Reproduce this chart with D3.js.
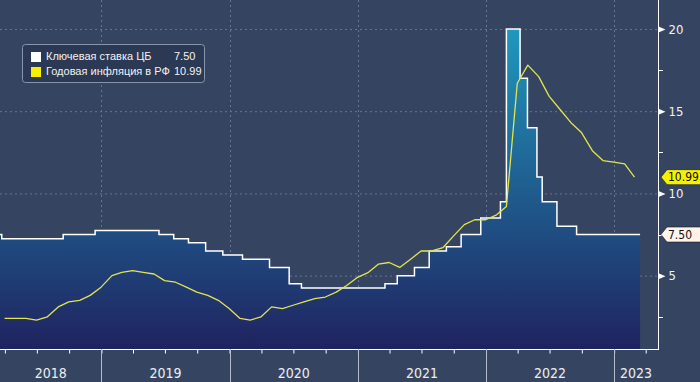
<!DOCTYPE html>
<html>
<head>
<meta charset="utf-8">
<script src="https://cdn.jsdelivr.net/npm/d3@7"></script>
<style>
  body { margin: 0; background: #354561; }
  svg { display: block; }
  .num { font-family: "Liberation Sans Narrow", "Arial Narrow", "DejaVu Sans Condensed", sans-serif; }
</style>
</head>
<body>
<svg width="700" height="382"></svg>
<script>
// key rate: decision dates and new level
var rateDates = ["2018-03-18","2018-03-23","2018-09-14","2018-12-14","2019-06-14","2019-07-26","2019-09-06",
  "2019-10-25","2019-12-13","2020-02-07","2020-04-24","2020-06-19","2020-07-24","2021-03-19","2021-04-23",
  "2021-06-11","2021-07-23","2021-09-10","2021-10-22","2021-12-17","2022-02-11","2022-02-28","2022-04-08",
  "2022-04-29","2022-05-26","2022-06-10","2022-07-22","2022-09-16","2023-03-16"];
var rateValues = [7.50,7.25,7.50,7.75,7.50,7.25,7.00,6.50,6.25,6.00,5.50,4.50,4.25,4.50,5.00,
  5.50,6.50,6.75,7.50,8.50,9.50,20.00,17.00,14.00,11.00,9.50,8.00,7.50,7.50];

// annual CPI, monthly
var inflMonths = [
  "2018-03","2018-04","2018-05","2018-06","2018-07","2018-08","2018-09","2018-10","2018-11","2018-12",
  "2019-01","2019-02","2019-03","2019-04","2019-05","2019-06","2019-07","2019-08","2019-09","2019-10","2019-11","2019-12",
  "2020-01","2020-02","2020-03","2020-04","2020-05","2020-06","2020-07","2020-08","2020-09","2020-10","2020-11","2020-12",
  "2021-01","2021-02","2021-03","2021-04","2021-05","2021-06","2021-07","2021-08","2021-09","2021-10","2021-11","2021-12",
  "2022-01","2022-02","2022-03","2022-04","2022-05","2022-06","2022-07","2022-08","2022-09","2022-10","2022-11","2022-12",
  "2023-01","2023-02"];
var inflValues = [
  2.4,2.4,2.4,2.3,2.5,3.1,3.4,3.5,3.8,4.3,
  5.0,5.2,5.3,5.2,5.1,4.7,4.6,4.3,4.0,3.8,3.5,3.0,
  2.4,2.3,2.5,3.1,3.0,3.2,3.4,3.6,3.7,4.0,4.4,4.9,
  5.2,5.7,5.8,5.5,6.0,6.5,6.5,6.7,7.4,8.1,8.4,8.4,
  8.7,9.2,16.7,17.8,17.1,15.9,15.1,14.3,13.7,12.6,12.0,11.9,
  11.8,10.99];

var yearLabels = ["2018","2019","2020","2021","2022","2023"];
var yMajor = [5, 10, 15, 20];
var yMinor = [2.5, 7.5, 12.5, 17.5];
var seriesNames = ["Ключевая ставка ЦБ", "Годовая инфляция в РФ"];
var lastLabels = ["7.50", "10.99"];

var width = 700;
var height = 382;
var plotW = 658;
var plotH = 349;

var parseDay = d3.timeParse("%Y-%m-%d");
var parseMonth = d3.timeParse("%Y-%m");

var rateData = rateDates.map((d, i) => ({date: parseDay(d), v: rateValues[i]}));
// monthly readings sit at the last day of their month
var inflData = inflMonths.map((m, i) => ({date: d3.timeDay.offset(d3.timeMonth.offset(parseMonth(m), 1), -1), v: inflValues[i]}));

var Xscale = d3.scaleTime()
  .domain([parseDay("2018-03-18"), parseDay("2023-05-06")])
  .range([0, plotW]);

var Yscale = d3.scaleLinear()
  .domain([0.54, 21.76])
  .range([plotH, 0]);

var svg = d3.select("svg");

svg.append("rect")
  .attr("width", width)
  .attr("height", height)
  .attr("fill", "#354561");

var grad = svg.append("defs").append("linearGradient")
  .attr("id", "areaGrad")
  .attr("gradientUnits", "userSpaceOnUse")
  .attr("x1", 0).attr("y1", 0)
  .attr("x2", 0).attr("y2", plotH);
grad.append("stop").attr("offset", 0).attr("stop-color", "#20a2c6");
grad.append("stop").attr("offset", 1).attr("stop-color", "#1f2360");

var years = yearLabels.map(y => parseDay(y + "-01-01"));

// grid
svg.append("g")
  .selectAll("line")
  .data(yMajor)
  .enter()
    .append("line")
    .attr("x1", 0)
    .attr("x2", plotW)
    .attr("y1", d => Yscale(d) + 0.5)
    .attr("y2", d => Yscale(d) + 0.5)
    .attr("stroke", "#62759a")
    .attr("stroke-dasharray", "2,3");

svg.append("g")
  .selectAll("line")
  .data(years.slice(1))
  .enter()
    .append("line")
    .attr("x1", d => Math.round(Xscale(d)) + 0.5)
    .attr("x2", d => Math.round(Xscale(d)) + 0.5)
    .attr("y1", 0)
    .attr("y2", plotH)
    .attr("stroke", "#62759a")
    .attr("stroke-dasharray", "2,3");

// key rate area + step line
var area = d3.area()
  .curve(d3.curveStepAfter)
  .x(d => Xscale(d.date))
  .y0(plotH)
  .y1(d => Yscale(d.v));

svg.append("path")
  .datum(rateData)
  .attr("d", area)
  .attr("fill", "url(#areaGrad)");

var rateLine = d3.line()
  .curve(d3.curveStepAfter)
  .x(d => Xscale(d.date))
  .y(d => Yscale(d.v));

svg.append("path")
  .datum(rateData)
  .attr("d", rateLine)
  .attr("fill", "none")
  .attr("stroke", "#ffffff")
  .attr("stroke-width", 1.5);

var inflLine = d3.line()
  .x(d => Xscale(d.date))
  .y(d => Yscale(d.v));

svg.append("path")
  .datum(inflData)
  .attr("d", inflLine)
  .attr("fill", "none")
  .attr("stroke", "#e4e44c")
  .attr("stroke-width", 1.3)
  .attr("stroke-linejoin", "round");

// right axis
var yAxis = d3.axisRight(Yscale)
  .tickValues(yMajor)
  .tickSize(0)
  .tickPadding(10)
  .tickFormat(d3.format("d"));

var yg = svg.append("g")
  .attr("class", "num")
  .attr("transform", "translate(" + (plotW + 0.5) + ",0)")
  .call(yAxis);
yg.select(".domain").remove();
yg.selectAll("text")
  .attr("fill", "#f2f2f2")
  .attr("font-size", 13);
yg.selectAll(".tick")
  .append("path")
  .attr("d", "M0,-3L7,0L0,3Z")
  .attr("fill", "#ffffff");

svg.append("g")
  .selectAll("line")
  .data(yMinor)
  .enter()
    .append("line")
    .attr("x1", plotW)
    .attr("x2", plotW + 5)
    .attr("y1", d => Math.round(Yscale(d)) + 0.5)
    .attr("y2", d => Math.round(Yscale(d)) + 0.5)
    .attr("stroke", "#ffffff");

svg.append("line")
  .attr("x1", plotW + 0.5).attr("x2", plotW + 0.5)
  .attr("y1", 0).attr("y2", plotH + 1)
  .attr("stroke", "#ffffff");

// bottom axis: quarterly ticks, year separators
var xAxis = d3.axisBottom(Xscale)
  .ticks(d3.timeMonth.every(3))
  .tickSize(4)
  .tickFormat("");

var xg = svg.append("g")
  .attr("transform", "translate(0," + (plotH + 0.5) + ")")
  .call(xAxis);
xg.select(".domain")
  .attr("d", "M0,0H" + (plotW + 1))
  .attr("stroke", "#ffffff");
xg.selectAll(".tick line").attr("stroke", "#ffffff");

svg.append("g")
  .selectAll("line")
  .data(years.slice(1))
  .enter()
    .append("line")
    .attr("x1", d => Math.round(Xscale(d)) + 0.5)
    .attr("x2", d => Math.round(Xscale(d)) + 0.5)
    .attr("y1", plotH)
    .attr("y2", height)
    .attr("stroke", "#b4bccb");

svg.append("g")
  .attr("class", "num")
  .selectAll("text")
  .data(years)
  .enter()
    .append("text")
    .attr("x", (d, i) => {
      var a = Math.max(0, Xscale(d));
      var b = i < years.length - 1 ? Xscale(years[i + 1]) : plotW;
      return (a + b) / 2;
    })
    .attr("y", 378)
    .attr("text-anchor", "middle")
    .attr("font-size", 14)
    .attr("fill", "#eeeeee")
    .text((d, i) => yearLabels[i]);

// last value tags
var tagData = [
  {v: rateValues[rateValues.length - 1], label: lastLabels[0], fill: "#fff3ea"},
  {v: inflValues[inflValues.length - 1], label: lastLabels[1], fill: "#f5f000"}
];

var tags = svg.append("g")
  .attr("class", "num")
  .selectAll("g")
  .data(tagData)
  .enter()
    .append("g")
    .attr("transform", d => "translate(" + (plotW + 3) + "," + Yscale(d.v) + ")");

tags.append("path")
  .attr("d", "M0,0L6,-7.5H42V7.5H6Z")
  .attr("fill", d => d.fill)
  .attr("stroke", "#1a1a1a")
  .attr("stroke-width", 0.6);

tags.append("text")
  .attr("x", 7)
  .attr("dy", "0.36em")
  .attr("font-size", 12)
  .attr("fill", "#111111")
  .text(d => d.label);

// legend
var legend = svg.append("g")
  .attr("transform", "translate(22,44)");

legend.append("rect")
  .attr("x", 0.5).attr("y", 0.5)
  .attr("width", 182).attr("height", 38)
  .attr("rx", 3)
  .attr("fill", "#2b3955")
  .attr("stroke", "#8794ab");

var legendColors = ["#ffffff", "#f5f000"];

var items = legend.selectAll("g")
  .data(seriesNames)
  .enter()
    .append("g")
    .attr("transform", (d, i) => "translate(0," + (12.5 + i * 15) + ")");

items.append("rect")
  .attr("x", 9).attr("y", -4.5)
  .attr("width", 10).attr("height", 10)
  .attr("fill", (d, i) => legendColors[i]);

items.append("text")
  .attr("x", 24)
  .attr("dy", "0.35em")
  .attr("font-family", "Liberation Sans, Arial, sans-serif")
  .attr("font-size", 11)
  .attr("fill", "#f2f2f2")
  .text(d => d);

items.append("text")
  .attr("x", 152)
  .attr("dy", "0.35em")
  .attr("font-family", "Liberation Sans, Arial, sans-serif")
  .attr("font-size", 11)
  .attr("fill", "#f2f2f2")
  .text((d, i) => lastLabels[i]);
</script>
</body>
</html>
